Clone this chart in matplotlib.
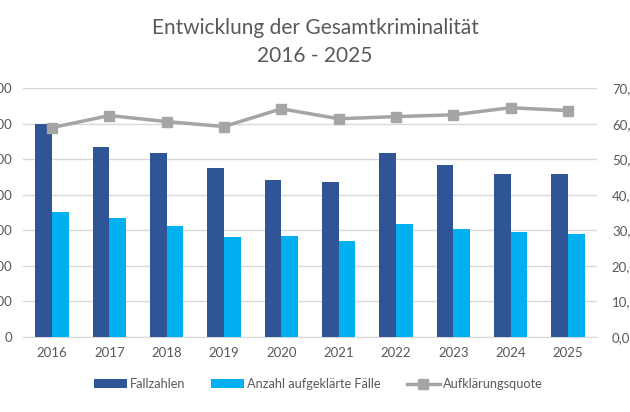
import numpy as np
import matplotlib
matplotlib.use('Agg')
import matplotlib.pyplot as plt
from matplotlib.ticker import FuncFormatter

plt.rcParams['font.family'] = ['Lato', 'DejaVu Sans']

years = ['2016', '2017', '2018', '2019', '2020', '2021', '2022', '2023', '2024', '2025']
fallzahlen = [6000, 5350, 5180, 4760, 4420, 4370, 5180, 4850, 4590, 4590]
aufgeklaert = [3520, 3350, 3130, 2820, 2850, 2700, 3180, 3040, 2960, 2900]
quote = [58.9, 62.3, 60.6, 59.2, 64.2, 61.4, 62.0, 62.5, 64.5, 63.7]

txt = '#595959'
fig = plt.figure(figsize=(6.3, 4.12), dpi=100)
ax = fig.add_axes([0.037, 0.182, 0.910, 0.604])
ax2 = ax.twinx()

x = np.arange(len(years))
w = 0.29
b1 = ax.bar(x - w/2, fallzahlen, w, color='#2F5597', label='Fallzahlen', zorder=3)
b2 = ax.bar(x + w/2, aufgeklaert, w, color='#00B0F0', label='Anzahl aufgeklärte Fälle', zorder=3)
l1, = ax2.plot(x, quote, color='#A5A5A5', lw=2.5, marker='s', ms=7, label='Aufklärungsquote')

ax.set_xlim(-0.5, len(years) - 0.5)
ax.set_ylim(0, 7000)
ax2.set_ylim(0, 70)
ax.set_yticks(np.arange(0, 7001, 1000))
ax2.set_yticks(np.arange(0, 71, 10))
ax.yaxis.set_major_formatter(FuncFormatter(lambda v, p: f'{int(v):,}'.replace(',', '.')))
ax2.yaxis.set_major_formatter(FuncFormatter(lambda v, p: f'{v:.1f}'.replace('.', ',')))
ax.grid(axis='y', color='#D9D9D9', lw=1, zorder=0)
ax.set_xticks(x)
ax.set_xticklabels(years)

for a in (ax, ax2):
    for s in a.spines.values():
        s.set_visible(False)
    a.tick_params(length=0, labelsize=9.5, colors=txt)
ax.spines['bottom'].set_visible(True)
ax.spines['bottom'].set_color('#D9D9D9')
ax.tick_params(axis='y', pad=8)
ax.tick_params(axis='x', pad=7)
ax2.tick_params(axis='y', pad=11)

fig.text(0.5, 0.932, 'Entwicklung der Gesamtkriminalität', ha='center', va='center',
         fontsize=15, color=txt)
fig.text(0.5, 0.865, '2016 - 2025', ha='center', va='center', fontsize=15, color=txt)

fig.legend([b1, b2, l1], ['Fallzahlen', 'Anzahl aufgeklärte Fälle', 'Aufklärungsquote'],
           loc='center', bbox_to_anchor=(0.505, 0.068), ncol=3, frameon=False,
           fontsize=9.2, labelcolor=txt, handlelength=2.6, handletextpad=0.25,
           columnspacing=2.0)

fig.savefig('out.png', dpi=100)
